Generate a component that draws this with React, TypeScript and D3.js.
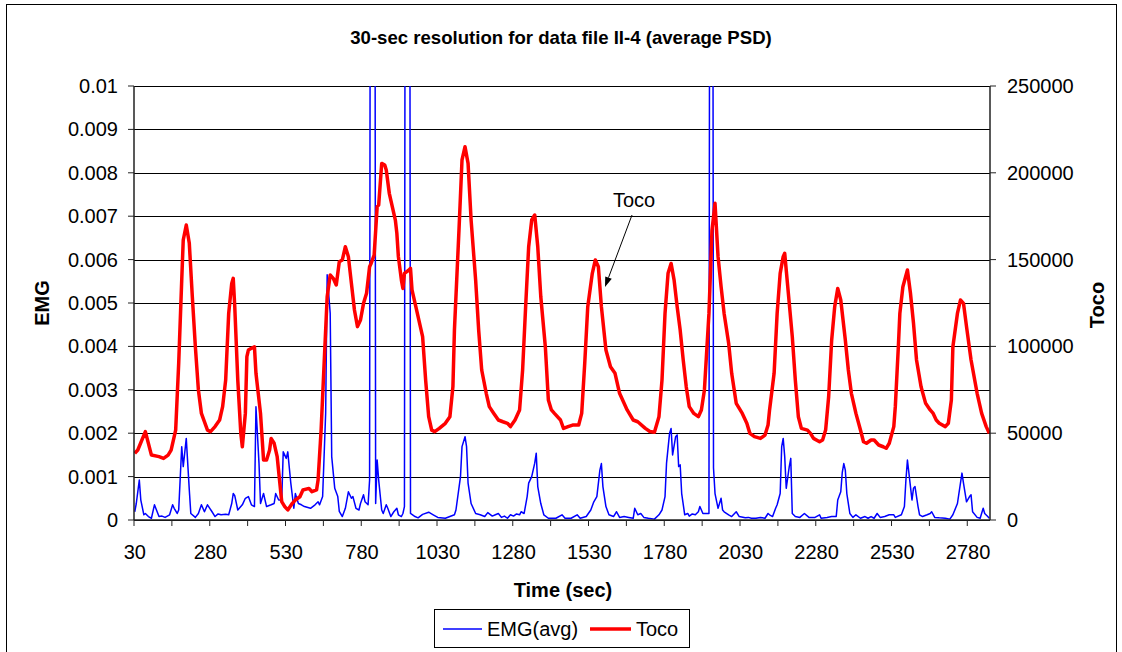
import React from 'react';
import * as d3 from 'd3';

// ---- data (time in sec) ----
const xTickLabels = [30, 280, 530, 780, 1030, 1280, 1530, 1780, 2030, 2280, 2530, 2780];
const emgTicks = [0, 0.001, 0.002, 0.003, 0.004, 0.005, 0.006, 0.007, 0.008, 0.009, 0.01];
const emgTickLabels = ['0', '0.001', '0.002', '0.003', '0.004', '0.005', '0.006', '0.007', '0.008', '0.009', '0.01'];
const tocoTicks = [0, 50000, 100000, 150000, 200000, 250000];

const emgData: [number, number][] = [
  [30, 0.00019], [35, 0.00038], [45, 0.00092], [50, 0.00046], [60, 0.00012], [65, 0.00015], [75, 0.00008], [85, 0.00004],
  [95, 0.00035], [110, 0.00008], [120, 0.00009], [130, 0.00006], [145, 0.00012], [155, 0.00035], [160, 0.00027], [170, 0.00015],
  [175, 0.00023], [185, 0.00169], [190, 0.00123], [200, 0.00188], [210, 0.00069], [215, 0.00015], [230, 0.00006], [240, 0.00015],
  [250, 0.00035], [260, 0.00019], [270, 0.00035], [285, 0.00019], [295, 0.00008], [305, 0.00014], [315, 0.00012], [330, 0.00013],
  [340, 0.00012], [350, 0.00038], [355, 0.00061], [360, 0.00056], [370, 0.00023], [385, 0.00035], [395, 0.0005], [405, 0.00054],
  [415, 0.00035], [425, 0.00031], [430, 0.00261], [440, 0.00131], [445, 0.00038], [455, 0.00061], [465, 0.00031], [480, 0.00035],
  [490, 0.00038], [495, 0.00061], [505, 0.00046], [515, 0.00046], [520, 0.00157], [530, 0.00142], [535, 0.00157], [545, 0.00085],
  [555, 0.00027], [560, 0.00061], [570, 0.00038], [580, 0.00035], [590, 0.00031], [610, 0.00027], [625, 0.00035], [635, 0.00042],
  [640, 0.00035], [650, 0.00054], [660, 0.00246], [665, 0.00565], [675, 0.00476], [680, 0.00146], [690, 0.00073], [700, 0.00054],
  [705, 0.0002], [715, 0.00008], [725, 0.00027], [735, 0.00065], [745, 0.0005], [750, 0.00054], [760, 0.00027], [770, 0.00023],
  [775, 0.00038], [785, 0.00058], [790, 0.00042], [800, 0.00035], [805, 0.00092], [810, 0.03], [820, 0.03], [825, 0.00038],
  [830, 0.00138], [835, 0.00092], [845, 0.00023], [850, 0.00015], [860, 0.00035], [865, 0.00027], [875, 0.00008], [885, 0.00019],
  [895, 0.00027], [900, 0.00012], [910, 0.00008], [915, 0.00015], [920, 0.00031], [925, 0.03], [935, 0.03], [940, 0.00015],
  [955, 0.00008], [965, 0.00005], [980, 0.00013], [1000, 0.00018], [1015, 0.00012], [1030, 0.00006], [1055, 0.00004], [1085, 0.00012],
  [1090, 0.00023], [1105, 0.001], [1110, 0.00169], [1120, 0.00192], [1125, 0.00169], [1130, 0.00085], [1140, 0.00038], [1155, 0.00015],
  [1170, 0.00012], [1185, 0.00008], [1195, 0.00017], [1210, 0.00009], [1220, 0.00012], [1230, 0.00015], [1240, 0.00006], [1250, 0.00009],
  [1260, 0.00004], [1270, 0.00012], [1280, 0.00009], [1290, 0.00014], [1300, 0.00012], [1305, 0.00019], [1315, 0.00015], [1325, 0.00054],
  [1330, 0.00085], [1340, 0.001], [1350, 0.00131], [1355, 0.00154], [1360, 0.00077], [1370, 0.00038], [1380, 0.00012], [1395, 0.00004],
  [1405, 0.00004], [1420, 0.00004], [1440, 0.00012], [1450, 0.00004], [1470, 0.00004], [1490, 0.00012], [1500, 0.00004], [1520, 0.00008],
  [1535, 0.00023], [1545, 0.00042], [1555, 0.00054], [1565, 0.00115], [1570, 0.0013], [1575, 0.00077], [1585, 0.00031], [1595, 0.00012],
  [1610, 0.00008], [1620, 0.00019], [1630, 0.00006], [1645, 0.00008], [1660, 0.00006], [1675, 0.00004], [1680, 0.00027], [1690, 0.00012],
  [1700, 0.00015], [1710, 0.00006], [1725, 0.00004], [1745, 0.00002], [1760, 0.00012], [1770, 0.00023], [1780, 0.00054], [1785, 0.00131],
  [1795, 0.002], [1800, 0.00211], [1805, 0.0015], [1815, 0.00192], [1820, 0.00196], [1825, 0.00123], [1830, 0.00127], [1835, 0.00061],
  [1845, 0.00012], [1855, 0.00015], [1860, 0.00009], [1870, 0.00014], [1880, 0.00012], [1890, 0.00019], [1895, 0.00031], [1905, 0.00015],
  [1915, 0.00015], [1925, 0.00015], [1930, 0.03], [1935, 0.03], [1940, 0.0012], [1945, 0.00061], [1955, 0.00027], [1965, 0.0005],
  [1970, 0.00023], [1975, 0.00019], [1990, 0.00012], [2000, 0.00008], [2015, 0.00019], [2025, 0.00008], [2045, 0.00005], [2055, 0.00006],
  [2065, 0.00004], [2080, 0.00004], [2095, 0.00006], [2110, 0.00004], [2120, 0.00015], [2125, 0.00012], [2135, 0.00008], [2145, 0.00027],
  [2150, 0.00035], [2160, 0.00061], [2165, 0.00169], [2170, 0.00188], [2175, 0.00146], [2180, 0.00073], [2190, 0.00123], [2195, 0.00142],
  [2200, 0.00015], [2210, 0.00008], [2225, 0.00006], [2240, 0.00015], [2255, 0.00006], [2265, 0.00006], [2275, 0.00006], [2290, 0.00012],
  [2295, 0.00004], [2315, 0.00006], [2330, 0.00008], [2345, 0.00008], [2350, 0.00046], [2360, 0.00065], [2365, 0.0011], [2370, 0.0013],
  [2375, 0.00115], [2380, 0.00061], [2390, 0.00015], [2400, 0.00006], [2410, 0.00012], [2425, 0.00004], [2440, 0.00008], [2450, 0.00004],
  [2460, 0.00008], [2470, 0.00004], [2480, 0.00015], [2490, 0.00006], [2505, 0.00008], [2520, 0.00012], [2535, 0.00012], [2540, 0.00006],
  [2560, 0.00012], [2570, 0.00031], [2575, 0.00092], [2580, 0.00138], [2590, 0.00077], [2595, 0.00046], [2600, 0.00073], [2605, 0.00077],
  [2615, 0.00031], [2620, 0.00012], [2630, 0.00008], [2645, 0.00012], [2655, 0.00015], [2660, 0.00019], [2670, 0.00006], [2685, 0.00005],
  [2705, 0.00004], [2720, 0.00002], [2730, 0.00012], [2745, 0.00038], [2755, 0.00085], [2760, 0.00108], [2765, 0.00085], [2775, 0.00042],
  [2785, 0.00054], [2790, 0.00058], [2795, 0.00019], [2810, 0.00006], [2820, 0.00004], [2830, 0.00027], [2835, 0.00015], [2845, 0.00008],
  [2850, 0.00004],
];

const tocoData: [number, number][] = [
  [30, 38400], [40, 40300], [65, 50900], [85, 37400], [110, 36500], [125, 35500], [140, 37400], [150, 40300], [165, 51800],
  [175, 90200], [185, 138200], [190, 161300], [200, 169900], [210, 159400], [220, 128600], [230, 99800], [240, 74900], [250, 61400],
  [270, 51800], [280, 50900], [295, 53800], [310, 57600], [320, 65300], [330, 80600], [340, 119000], [350, 136300], [355, 139200],
  [360, 123000], [370, 80600], [380, 49900], [385, 42200], [395, 61400], [400, 94100], [405, 97900], [415, 98900], [425, 99800],
  [430, 84500], [445, 61400], [455, 34600], [465, 34600], [475, 40300], [480, 47000], [490, 44200], [500, 36500], [505, 27800],
  [515, 10600], [525, 7700], [535, 5800], [550, 9600], [560, 11500], [575, 13400], [585, 17300], [605, 18200], [615, 16300],
  [630, 17300], [635, 23000], [645, 51800], [655, 90200], [665, 128600], [675, 141100], [685, 139200], [695, 135400], [705, 148800],
  [715, 149800], [725, 157400], [735, 151700], [745, 136300], [755, 121000], [765, 111400], [775, 115200], [785, 124800], [795, 130600],
  [805, 145900], [810, 147800], [820, 152600], [830, 180500], [835, 181400], [845, 205400], [855, 204500], [860, 201600], [870, 188200],
  [890, 172800], [895, 165100], [900, 151700], [910, 138200], [915, 133400], [920, 142100], [935, 144000], [940, 145000], [945, 132500],
  [960, 121000], [980, 105600], [990, 80600], [1000, 59500], [1010, 51800], [1020, 50900], [1035, 52800], [1055, 55700], [1070, 59500],
  [1080, 76800], [1085, 109400], [1100, 167000], [1110, 207400], [1120, 215000], [1130, 205400], [1140, 172800], [1155, 138200],
  [1165, 109400], [1175, 86400], [1190, 73000], [1200, 65300], [1215, 61400], [1230, 57600], [1245, 56600], [1260, 55700], [1270, 53800],
  [1285, 57600], [1300, 63400], [1310, 86400], [1320, 122900], [1330, 157400], [1340, 172800], [1350, 175700], [1360, 157400],
  [1370, 128600], [1385, 99800], [1395, 69100], [1405, 63400], [1415, 61400], [1435, 57600], [1445, 52800], [1460, 53800], [1475, 54700],
  [1495, 54700], [1505, 61400], [1515, 90200], [1525, 122900], [1540, 142100], [1550, 149800], [1560, 145900], [1570, 122900],
  [1585, 97900], [1600, 88300], [1615, 84500], [1630, 73000], [1655, 63400], [1675, 57600], [1690, 56600], [1715, 52800], [1730, 51000],
  [1745, 50500], [1760, 59500], [1770, 80600], [1780, 119000], [1790, 142100], [1800, 147800], [1810, 138200], [1820, 122900],
  [1830, 109400], [1840, 92200], [1850, 76800], [1860, 65300], [1875, 61400], [1890, 59500], [1900, 63400], [1910, 74900], [1925, 119000],
  [1935, 167000], [1945, 182400], [1955, 151700], [1965, 134400], [1975, 119000], [1990, 101800], [2000, 84500], [2015, 67200],
  [2035, 61400], [2050, 55700], [2060, 49900], [2075, 48000], [2095, 47000], [2110, 48900], [2120, 54700], [2125, 63400], [2140, 84500],
  [2150, 119000], [2160, 142100], [2170, 151700], [2175, 153600], [2185, 134400], [2200, 105600], [2210, 80600], [2220, 59500],
  [2230, 52800], [2250, 51800], [2260, 49900], [2270, 47000], [2290, 45100], [2300, 46100], [2310, 51800], [2320, 71000], [2330, 103700],
  [2340, 122900], [2350, 133400], [2360, 126700], [2375, 103700], [2385, 86400], [2395, 73000], [2410, 61400], [2425, 51800],
  [2435, 45100], [2445, 44200], [2460, 46100], [2470, 46100], [2485, 43200], [2500, 42200], [2510, 41300], [2520, 44200], [2535, 53800],
  [2540, 65300], [2550, 99800], [2555, 119000], [2565, 134400], [2580, 144000], [2590, 130600], [2600, 113400], [2610, 92200],
  [2625, 76800], [2640, 67200], [2655, 63400], [2665, 61400], [2675, 57600], [2685, 55700], [2705, 53800], [2715, 55700], [2725, 69100],
  [2730, 99800], [2745, 119000], [2755, 126700], [2765, 124800], [2775, 111400], [2790, 92200], [2810, 73000], [2825, 61400],
  [2840, 53800], [2850, 49900],
];

const FONT = '"Liberation Sans", Arial, sans-serif';

export default function App() {
  const left = 134, right = 990, top = 86, bottom = 520;
  const x = d3.scaleLinear().domain([27.5, 2852.5]).range([left, right]);
  const yL = d3.scaleLinear().domain([0, 0.01]).range([bottom, top]);
  const yR = d3.scaleLinear().domain([0, 250000]).range([bottom, top]);

  const emgLine = d3.line<[number, number]>().x(d => x(d[0])).y(d => yL(d[1]));
  const tocoLine = d3.line<[number, number]>().x(d => x(d[0])).y(d => yR(d[1]));

  const xTickMarks = d3.range(27.5, 2852.5, 125);

  // annotation arrow
  const ax1 = 632, ay1 = 215, ax2 = 605, ay2 = 287;
  const ang = Math.atan2(ay2 - ay1, ax2 - ax1);
  const hl = 10, hw = 3.5;
  const bx = ax2 - hl * Math.cos(ang), by = ay2 - hl * Math.sin(ang);
  const head = `${ax2},${ay2} ${bx + hw * Math.sin(ang)},${by - hw * Math.cos(ang)} ${bx - hw * Math.sin(ang)},${by + hw * Math.cos(ang)}`;

  return (
    <svg width={1122} height={652} style={{ position: 'absolute', left: 0, top: 0, background: '#fff' }}
      fontFamily={FONT}>
      <defs>
        <clipPath id="plotClip">
          <rect x={left} y={top} width={right - left} height={bottom - top} />
        </clipPath>
      </defs>
      <rect x={6.5} y={4.5} width={1110} height={700} fill="#fff" stroke="#000" strokeWidth={1} />
      <text x={561} y={44} textAnchor="middle" fontSize={18.6} fontWeight="bold">
        30-sec resolution for data file II-4 (average PSD)
      </text>

      {/* gridlines */}
      {emgTicks.map(t => (
        <line key={'g' + t} x1={left} x2={right} y1={Math.round(yL(t)) + 0.5} y2={Math.round(yL(t)) + 0.5}
          stroke="#000" strokeWidth={1} />
      ))}

      {/* series */}
      <g clipPath="url(#plotClip)">
        <path d={emgLine(emgData) || ''} fill="none" stroke="#0000ff" strokeWidth={1.5} strokeLinejoin="round" />
        <path d={tocoLine(tocoData) || ''} fill="none" stroke="#ff0000" strokeWidth={3.5} strokeLinejoin="round" />
      </g>

      {/* axes */}
      <line x1={left} x2={left} y1={top} y2={bottom} stroke="#222" strokeWidth={1.5} />
      <line x1={right} x2={right} y1={top} y2={bottom} stroke="#222" strokeWidth={1.5} />
      <line x1={left} x2={right} y1={bottom} y2={bottom} stroke="#222" strokeWidth={1.5} />

      {emgTicks.map((t, i) => (
        <g key={'l' + t}>
          <line x1={left - 6} x2={left} y1={yL(t)} y2={yL(t)} stroke="#222" strokeWidth={1} />
          <text x={118} y={yL(t) + 7} textAnchor="end" fontSize={20}>{emgTickLabels[i]}</text>
        </g>
      ))}
      {tocoTicks.map(t => (
        <g key={'r' + t}>
          <line x1={right} x2={right + 6} y1={yR(t)} y2={yR(t)} stroke="#222" strokeWidth={1} />
          <text x={1007} y={yR(t) + 7} textAnchor="start" fontSize={20}>{String(t)}</text>
        </g>
      ))}
      {xTickMarks.map(t => (
        <line key={'xt' + t} x1={x(t)} x2={x(t)} y1={bottom} y2={bottom + 6} stroke="#222" strokeWidth={1} />
      ))}
      {xTickLabels.map(t => (
        <text key={'xl' + t} x={x(t)} y={559} textAnchor="middle" fontSize={20}>{String(t)}</text>
      ))}

      <text x={563} y={597} textAnchor="middle" fontSize={20} fontWeight="bold">Time (sec)</text>
      <text transform="translate(49,303) rotate(-90)" textAnchor="middle" fontSize={20} fontWeight="bold">EMG</text>
      <text transform="translate(1104,305) rotate(-90)" textAnchor="middle" fontSize={20} fontWeight="bold">Toco</text>

      {/* annotation */}
      <text x={613} y={207} fontSize={20}>Toco</text>
      <line x1={ax1} y1={ay1} x2={bx} y2={by} stroke="#000" strokeWidth={1} />
      <polygon points={head} fill="#000" />

      {/* legend */}
      <rect x={434.5} y={609.5} width={255} height={38} fill="#fff" stroke="#000" strokeWidth={1} />
      <line x1={443} x2={482} y1={629} y2={629} stroke="#0000ff" strokeWidth={1.5} />
      <text x={487} y={636} fontSize={20}>EMG(avg)</text>
      <line x1={590} x2={631} y1={629} y2={629} stroke="#ff0000" strokeWidth={3.5} />
      <text x={636} y={636} fontSize={20}>Toco</text>
    </svg>
  );
}
